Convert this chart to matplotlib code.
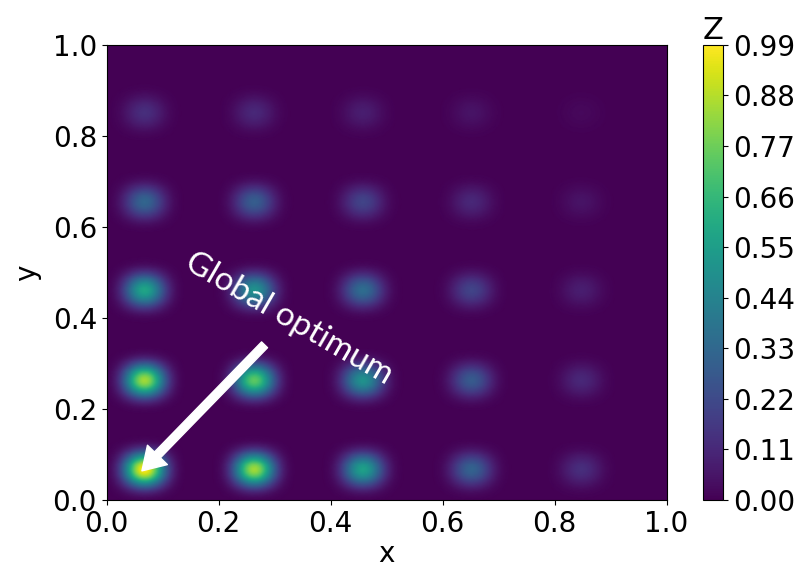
import numpy as np
import matplotlib
matplotlib.use("Agg")
import matplotlib.pyplot as plt

# Peak centres along each axis and the peak heights (rows: y, cols: x)
peak_x = [0.068, 0.264, 0.458, 0.652, 0.848]
peak_y = [0.068, 0.264, 0.462, 0.656, 0.852]
peak_z = [
    [0.99, 0.85, 0.56, 0.31, 0.13],
    [0.85, 0.74, 0.50, 0.28, 0.11],
    [0.58, 0.50, 0.35, 0.20, 0.08],
    [0.32, 0.29, 0.20, 0.11, 0.05],
    [0.13, 0.11, 0.08, 0.05, 0.02],
]
cbar_ticks = [0.00, 0.11, 0.22, 0.33, 0.44, 0.55, 0.66, 0.77, 0.88, 0.99]


def bump(d):
    # smooth cos^6 peak profile, half period 0.1
    out = np.cos(5 * np.pi * d) ** 6
    out[np.abs(d) > 0.1] = 0.0
    return out


g = np.linspace(0, 1, 500)
X, Y = np.meshgrid(g, g)
Z = np.zeros_like(X)
for j, cy in enumerate(peak_y):
    for i, cx in enumerate(peak_x):
        Z += peak_z[j][i] * bump(X - cx) * bump(Y - cy)

fig = plt.figure(figsize=(8.08, 5.76), dpi=100)
ax = fig.add_axes([0.132, 0.132, 0.693, 0.790])
cax = fig.add_axes([0.870, 0.132, 0.025, 0.790])

im = ax.pcolormesh(X, Y, Z, cmap="viridis", vmin=0, vmax=0.99, shading="gouraud")
ax.set_xlim(0, 1)
ax.set_ylim(0, 1)
ax.set_xticks([0, 0.2, 0.4, 0.6, 0.8, 1.0])
ax.set_yticks([0, 0.2, 0.4, 0.6, 0.8, 1.0])
ax.tick_params(labelsize=20)
ax.set_xlabel("x", fontsize=20, labelpad=2)
ax.set_ylabel("y", fontsize=20, labelpad=8)

cb = fig.colorbar(im, cax=cax, ticks=cbar_ticks)
cb.ax.set_yticklabels([f"{t:.2f}" for t in cbar_ticks])
cb.ax.tick_params(labelsize=20)
cb.ax.set_title("Z", fontsize=22, pad=2)

ax.annotate("", xy=(0.063, 0.064), xytext=(0.282, 0.341),
            arrowprops=dict(facecolor="white", edgecolor="white",
                            width=6, headwidth=20, headlength=16))
ax.text(0.325, 0.398, "Global optimum", color="white", fontsize=24,
        family="Lato", rotation=-30, rotation_mode="anchor",
        ha="center", va="center")

fig.savefig("out.png", dpi=100)
